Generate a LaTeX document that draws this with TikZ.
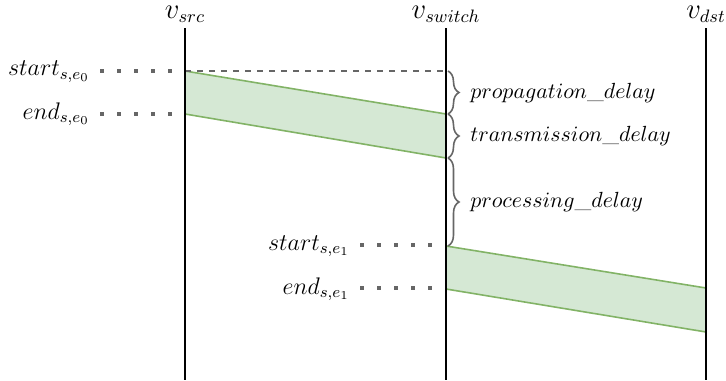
\documentclass[tikz,border=0pt]{standalone}
\usetikzlibrary{decorations.pathreplacing}
\definecolor{bandfill}{HTML}{D5E8D4}
\definecolor{bandline}{HTML}{82B366}
\definecolor{guide}{HTML}{666666}
\newcommand{\stampsize}{\fontsize{11.8}{14}\selectfont}
\newcommand{\delaysize}{\fontsize{11.4}{14}\selectfont}
\begin{document}
\begin{tikzpicture}[x=0.5pt,y=-0.5pt,
  lifeline/.style={line width=1pt,black},
  band/.style={fill=bandfill,draw=bandline,line width=0.8pt},
  tick/.style={guide,line width=2pt,dash pattern=on 2pt off 6.5pt},
  stamp/.style={anchor=base east,inner sep=0pt,font=\stampsize},
  head/.style={anchor=base,inner sep=0pt,font=\fontsize{13.5}{16}\selectfont},
  delay/.style={guide,line width=0.8pt,decorate,decoration={brace,amplitude=5.5pt}},
  delaylabel/.style={anchor=west,inner sep=0pt,font=\delaysize}]
\useasboundingbox (0,0) rectangle (726,380);
% lifelines
\coordinate (srcT) at (185,28);  \coordinate (srcB) at (185,380);
\coordinate (swT) at (446,28);   \coordinate (swB) at (446,380);
\coordinate (dstT) at (706,28);  \coordinate (dstB) at (706,380);
\node[head] (hsrc) at (185,18.5) {$v_{src}$};
\node[head] (hsw) at (446,18.5) {$v_{switch}$};
\node[head] (hdst) at (706,18.5) {$v_{dst}$};
% frame transmissions
\coordinate (a1) at (185,71);  \coordinate (a2) at (446,114);
\coordinate (a3) at (446,158); \coordinate (a4) at (185,114);
\coordinate (b1) at (446,246); \coordinate (b2) at (706,288);
\coordinate (b3) at (706,332); \coordinate (b4) at (446,289);
\path[band] (a1) -- (a2) -- (a3) -- (a4) -- cycle;
\path[band] (b1) -- (b2) -- (b3) -- (b4) -- cycle;
\draw[guide,line width=0.8pt,dashed] (a1) -- (446,71) coordinate (a0);
\draw[lifeline] (srcT) -- (srcB);
\draw[lifeline] (swT) -- (swB);
\draw[lifeline] (dstT) -- (dstB);
% timestamps
\node[stamp] (s0) at (90,75.5) {$start_{s,e_0}$};
\node[stamp] (e0) at (90,119) {$end_{s,e_0}$};
\node[stamp] (s1) at (350,250) {$start_{s,e_1}$};
\node[stamp] (e1) at (350,294) {$end_{s,e_1}$};
\coordinate (s0r) at (180,71); \coordinate (e0r) at (180,114);
\coordinate (s1r) at (441,245); \coordinate (e1r) at (441,288);
\draw[tick] ([xshift=5pt]s0.east |- s0r) -- (s0r);
\draw[tick] ([xshift=5pt]e0.east |- e0r) -- (e0r);
\draw[tick] ([xshift=5pt]s1.east |- s1r) -- (s1r);
\draw[tick] ([xshift=5pt]e1.east |- e1r) -- (e1r);
% delay components
\draw[delay] (448,71) -- (448,114);
\draw[delay] (448,114) -- (448,158);
\draw[delay] (448,158) -- (448,246);
\node[delaylabel] (prop) at (470,93) {$propagation\_delay$};
\node[delaylabel] (trans) at (470,136) {$transmission\_delay$};
\node[delaylabel] (proc) at (470,202) {$processing\_delay$};
\end{tikzpicture}
\end{document}
